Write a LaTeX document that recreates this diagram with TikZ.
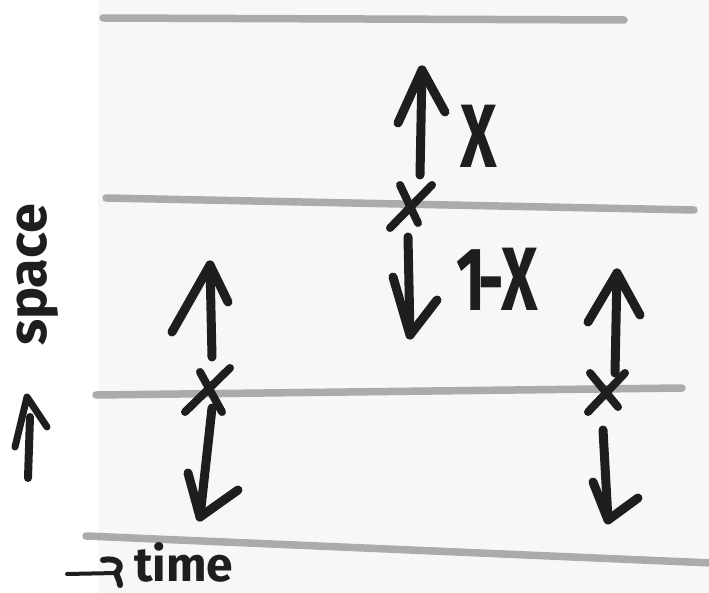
\documentclass[tikz,border=0pt]{standalone}
\usepackage{fontspec}
\setmainfont{Fira Sans}
\definecolor{ink}{HTML}{1E1E1E}
\definecolor{pencil}{HTML}{ABABAB}
\definecolor{paper}{HTML}{F7F7F7}
\begin{document}
\begin{tikzpicture}[x=1pt,y=-1pt,
  ink/.style={draw=ink,line width=9pt,line cap=round,line join=round},
  thinink/.style={draw=ink,line width=4pt,line cap=round,line join=round},
  pencilline/.style={draw=pencil,line width=7.5pt,line cap=round},
  biglbl/.style={text=ink,inner sep=0pt,font=\bfseries\fontsize{90}{90}\selectfont,xscale=0.7,transform shape},
  axislbl/.style={text=ink,inner sep=0pt,font=\bfseries\fontsize{54}{54}\selectfont}]
\useasboundingbox (0,0) rectangle (709,593);
\fill[white] (0,0) rectangle (709,593);
\fill[paper] (98,0) rectangle (709,593);

% pencil lines
\coordinate (l1a) at (103,18);  \coordinate (l1b) at (624,20);
\coordinate (l2a) at (106,198); \coordinate (l2b) at (694,210);
\coordinate (l3a) at (96,395);  \coordinate (l3b) at (682,388);
\coordinate (l4a) at (86,536);  \coordinate (l4b) at (712,563);
\draw[pencilline] (l1a) -- (l1b);
\draw[pencilline] (l2a) -- (l2b);
\draw[pencilline] (l3a) -- (l3b);
\draw[pencilline] (l4a) -- (l4b);

% middle group
\coordinate (mut) at (422,70);  \coordinate (mul) at (398,123);
\coordinate (mur) at (445,112); \coordinate (mub) at (420,175);
\draw[ink] (mul) -- (mut) -- (mur);
\draw[ink] (mut) -- (mub);
\coordinate (mc1a) at (400,185); \coordinate (mc1b) at (418,223);
\coordinate (mc2a) at (432,185); \coordinate (mc2b) at (390,228);
\draw[ink,line width=8pt] (mc1a) -- (mc1b);
\draw[ink,line width=8pt] (mc2a) -- (mc2b);
\coordinate (mdt) at (410,335); \coordinate (mdl) at (393,277);
\coordinate (mdr) at (437,300); \coordinate (mdb) at (408,237);
\draw[ink] (mdl) -- (mdt) -- (mdr);
\draw[ink] (mdb) -- (mdt);
\node[biglbl] (xlbl) at (479,136) {X};
\node[biglbl] (onemx) at (497,279) {1\kern-0.12em-\kern-0.04em X};

% left group
\coordinate (lut) at (210,265); \coordinate (lul) at (172,332);
\coordinate (lur) at (228,302); \coordinate (lub) at (212,357);
\draw[ink] (lul) -- (lut) -- (lur);
\draw[ink] (lut) -- (lub);
\coordinate (lc1a) at (200,372); \coordinate (lc1b) at (222,412);
\coordinate (lc2a) at (230,368); \coordinate (lc2b) at (185,412);
\draw[ink,line width=8pt] (lc1a) -- (lc1b);
\draw[ink,line width=8pt] (lc2a) -- (lc2b);
\coordinate (ldt) at (200,517); \coordinate (ldl) at (188,473);
\coordinate (ldr) at (238,490); \coordinate (ldb) at (212,408);
\draw[ink] (ldl) -- (ldt) -- (ldr);
\draw[ink] (ldb) -- (ldt);

% right group
\coordinate (rut) at (617,273); \coordinate (rul) at (588,322);
\coordinate (rur) at (640,315); \coordinate (rub) at (615,373);
\draw[ink] (rul) -- (rut) -- (rur);
\draw[ink] (rut) -- (rub);
\coordinate (rc1a) at (590,373); \coordinate (rc1b) at (618,407);
\coordinate (rc2a) at (625,373); \coordinate (rc2b) at (588,412);
\draw[ink,line width=8pt] (rc1a) -- (rc1b);
\draw[ink,line width=8pt] (rc2a) -- (rc2b);
\coordinate (rdt) at (608,520); \coordinate (rdl) at (593,482);
\coordinate (rdr) at (638,498); \coordinate (rdb) at (603,430);
\draw[ink] (rdl) -- (rdt) -- (rdr);
\draw[ink] (rdb) -- (rdt);

% space axis
\node[axislbl,rotate=90] (space) at (38,275) {space};
\coordinate (sat) at (27,397); \coordinate (sal) at (15,447);
\coordinate (sar) at (47,427); \coordinate (sas) at (30,417);
\coordinate (sab) at (28,478);
\draw[ink,line width=7pt] (sal) -- (sat) -- (sar);
\draw[ink,line width=8pt] (sas) -- (sab);

% time axis
\coordinate (tas) at (67,574); \coordinate (tae) at (116,573);
\coordinate (tah) at (103,560); \coordinate (taq) at (120,585);
\draw[thinink] (tas) -- (tae);
\draw[ink,line width=6pt] (tah) .. controls (119,557) and (124,566) .. (tae) .. controls (118,578) and (120,582) .. (taq);
\node[axislbl,font=\bfseries\fontsize{48}{48}\selectfont,anchor=base west] (time) at (134,581) {time};
\end{tikzpicture}
\end{document}
